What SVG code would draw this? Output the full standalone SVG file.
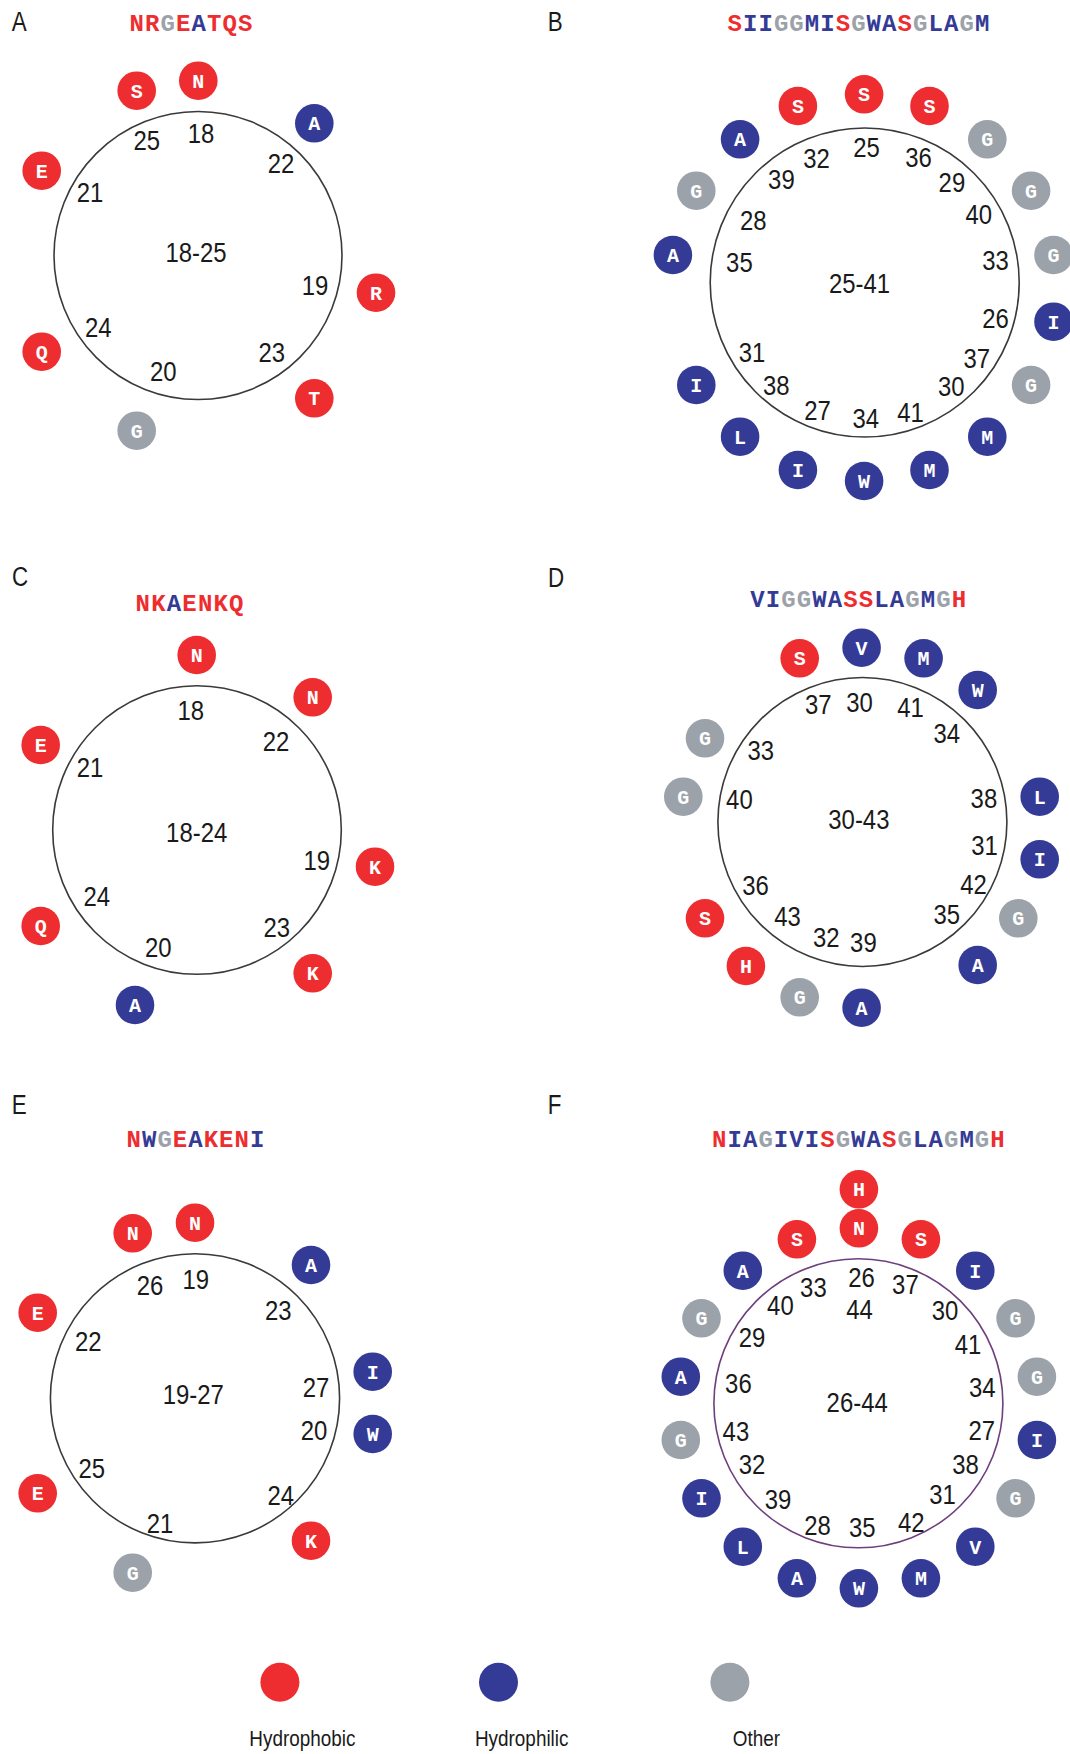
<svg xmlns="http://www.w3.org/2000/svg" width="1070" height="1754" viewBox="0 0 1070 1754">
<style>
.r{fill:#ED2D2F}.b{fill:#343B96}.g{fill:#9CA2AA}
.rt{fill:#ED2D2F}.bt{fill:#343B96}.gt{fill:#9CA2AA}
.res text{fill:#fff;font-family:"Liberation Mono","DejaVu Sans Mono",monospace;font-weight:bold;font-size:20px;text-anchor:middle}
.seq{font-family:"Liberation Mono","DejaVu Sans Mono",monospace;font-weight:bold;font-size:24px;text-anchor:middle}
.num,.pl,.leg{font-family:"Liberation Sans",Arial,sans-serif;fill:#1a1a1a;transform-box:fill-box;transform-origin:center}
.num{font-size:28.5px;text-anchor:middle;transform:scaleX(0.84)}
.pl{font-size:28px;transform:scaleX(0.8)}
.leg{font-size:22px;text-anchor:middle;transform:scaleX(0.86)}
.wheel{fill:none;stroke:#3a3a3a;stroke-width:1.6}
</style>
<rect width="1070" height="1754" fill="#fff"/>

<!-- Panel labels -->
<text class="pl" x="10" y="31.5">A</text>
<text class="pl" x="546" y="31.5">B</text>
<text class="pl" x="10" y="586.5">C</text>
<text class="pl" x="546" y="587">D</text>
<text class="pl" x="10" y="1114">E</text>
<text class="pl" x="546" y="1114">F</text>

<!-- Sequences -->
<text class="seq" y="31"><tspan x="136.8" class="rt">N</tspan><tspan x="152.3" class="rt">R</tspan><tspan x="167.8" class="gt">G</tspan><tspan x="183.3" class="rt">E</tspan><tspan x="198.8" class="bt">A</tspan><tspan x="214.3" class="rt">T</tspan><tspan x="229.8" class="rt">Q</tspan><tspan x="245.3" class="rt">S</tspan></text>
<text class="seq" y="31"><tspan x="734.7" class="rt">S</tspan><tspan x="750.2" class="bt">I</tspan><tspan x="765.6" class="bt">I</tspan><tspan x="781.1" class="gt">G</tspan><tspan x="796.5" class="gt">G</tspan><tspan x="812.0" class="bt">M</tspan><tspan x="827.5" class="bt">I</tspan><tspan x="842.9" class="rt">S</tspan><tspan x="858.4" class="gt">G</tspan><tspan x="873.8" class="bt">W</tspan><tspan x="889.3" class="bt">A</tspan><tspan x="904.8" class="rt">S</tspan><tspan x="920.2" class="gt">G</tspan><tspan x="935.7" class="bt">L</tspan><tspan x="951.1" class="bt">A</tspan><tspan x="966.6" class="gt">G</tspan><tspan x="982.1" class="bt">M</tspan></text>
<text class="seq" y="611"><tspan x="142.8" class="rt">N</tspan><tspan x="158.4" class="rt">K</tspan><tspan x="173.9" class="bt">A</tspan><tspan x="189.5" class="rt">E</tspan><tspan x="205.1" class="rt">N</tspan><tspan x="220.6" class="rt">K</tspan><tspan x="236.2" class="rt">Q</tspan></text>
<text class="seq" y="607"><tspan x="757.5" class="bt">V</tspan><tspan x="773.0" class="bt">I</tspan><tspan x="788.5" class="gt">G</tspan><tspan x="804.0" class="gt">G</tspan><tspan x="819.5" class="bt">W</tspan><tspan x="835.0" class="bt">A</tspan><tspan x="850.5" class="rt">S</tspan><tspan x="866.0" class="rt">S</tspan><tspan x="881.5" class="bt">L</tspan><tspan x="897.0" class="bt">A</tspan><tspan x="912.5" class="gt">G</tspan><tspan x="928.0" class="bt">M</tspan><tspan x="943.5" class="gt">G</tspan><tspan x="959.0" class="rt">H</tspan></text>
<text class="seq" y="1146.5"><tspan x="133.7" class="rt">N</tspan><tspan x="149.1" class="bt">W</tspan><tspan x="164.6" class="gt">G</tspan><tspan x="180.0" class="rt">E</tspan><tspan x="195.5" class="bt">A</tspan><tspan x="210.9" class="rt">K</tspan><tspan x="226.3" class="rt">E</tspan><tspan x="241.8" class="rt">N</tspan><tspan x="257.2" class="bt">I</tspan></text>
<text class="seq" y="1146.5"><tspan x="719.2" class="rt">N</tspan><tspan x="734.7" class="bt">I</tspan><tspan x="750.1" class="bt">A</tspan><tspan x="765.6" class="gt">G</tspan><tspan x="781.0" class="bt">I</tspan><tspan x="796.5" class="bt">V</tspan><tspan x="812.0" class="bt">I</tspan><tspan x="827.4" class="rt">S</tspan><tspan x="842.9" class="gt">G</tspan><tspan x="858.3" class="bt">W</tspan><tspan x="873.8" class="bt">A</tspan><tspan x="889.3" class="rt">S</tspan><tspan x="904.7" class="gt">G</tspan><tspan x="920.2" class="bt">L</tspan><tspan x="935.6" class="bt">A</tspan><tspan x="951.1" class="gt">G</tspan><tspan x="966.6" class="bt">M</tspan><tspan x="982.0" class="gt">G</tspan><tspan x="997.5" class="rt">H</tspan></text>

<!-- Wheels -->
<g id="connectors">
<circle class="wheel" cx="198" cy="255.5" r="144"/>
<circle class="wheel" cx="864.7" cy="282.5" r="154.5"/>
<circle class="wheel" cx="197" cy="830" r="144.3"/>
<circle class="wheel" cx="862.4" cy="822" r="144.5"/>
<circle class="wheel" cx="195" cy="1398.3" r="144.6"/>
<circle class="wheel" cx="858.4" cy="1403.3" r="144.5" style="stroke:#6E3F7E"/>
</g>

<!-- Panel A -->
<g id="panelA">
<text class="num" x="196" y="262">18-25</text>
<text class="num" x="201" y="143.3">18</text><text class="num" x="146.7" y="150">25</text><text class="num" x="281" y="173.3">22</text><text class="num" x="90" y="201.7">21</text><text class="num" x="315" y="295">19</text><text class="num" x="98.3" y="337.3">24</text><text class="num" x="271.7" y="361.7">23</text><text class="num" x="163.3" y="381">20</text>
<g id="A-N18" class="res"><circle class="r" cx="198.3" cy="80.7" r="19.3"/><text x="198.3" y="87.7">N</text></g>
<g id="A-S25" class="res"><circle class="r" cx="136.7" cy="90.7" r="19.3"/><text x="136.7" y="97.7">S</text></g>
<g id="A-A22" class="res"><circle class="b" cx="314.3" cy="123.3" r="19.3"/><text x="314.3" y="130.3">A</text></g>
<g id="A-E21" class="res"><circle class="r" cx="41.7" cy="170.7" r="19.3"/><text x="41.7" y="177.7">E</text></g>
<g id="A-R19" class="res"><circle class="r" cx="376" cy="292.7" r="19.3"/><text x="376" y="299.7">R</text></g>
<g id="A-Q24" class="res"><circle class="r" cx="41.7" cy="351.7" r="19.3"/><text x="41.7" y="358.7">Q</text></g>
<g id="A-T23" class="res"><circle class="r" cx="314.3" cy="398.3" r="19.3"/><text x="314.3" y="405.3">T</text></g>
<g id="A-G20" class="res"><circle class="g" cx="136.7" cy="430.7" r="19.3"/><text x="136.7" y="437.7">G</text></g>
</g>

<!-- Panel B -->
<g id="panelB">
<text class="num" x="859.6" y="293.3">25-41</text>
<text class="num" x="866.5" y="156.7">25</text><text class="num" x="816.5" y="168.3">32</text><text class="num" x="918.5" y="166.7">36</text><text class="num" x="781.4" y="189">39</text><text class="num" x="951.9" y="191.7">29</text><text class="num" x="753.2" y="230">28</text><text class="num" x="978.7" y="224.3">40</text><text class="num" x="739.4" y="271.7">35</text><text class="num" x="995.6" y="270">33</text><text class="num" x="995.6" y="328.3">26</text><text class="num" x="752.1" y="362.3">31</text><text class="num" x="976.7" y="368.3">37</text><text class="num" x="776.2" y="395">38</text><text class="num" x="951.2" y="396">30</text><text class="num" x="817.6" y="420">27</text><text class="num" x="865.8" y="428.3">34</text><text class="num" x="910.6" y="422.3">41</text>
<g id="B-S25" class="res"><circle class="r" cx="864.1" cy="94.3" r="19.3"/><text x="864.1" y="101.3">S</text></g>
<g id="B-S32" class="res"><circle class="r" cx="797.9" cy="106" r="19.3"/><text x="797.9" y="113">S</text></g>
<g id="B-S36" class="res"><circle class="r" cx="929.5" cy="106" r="19.3"/><text x="929.5" y="113">S</text></g>
<g id="B-A39" class="res"><circle class="b" cx="740.1" cy="139.3" r="19.3"/><text x="740.1" y="146.3">A</text></g>
<g id="B-G29" class="res"><circle class="g" cx="987.3" cy="139.3" r="19.3"/><text x="987.3" y="146.3">G</text></g>
<g id="B-G28" class="res"><circle class="g" cx="696.3" cy="190.7" r="19.3"/><text x="696.3" y="197.7">G</text></g>
<g id="B-G40" class="res"><circle class="g" cx="1031.1" cy="190.7" r="19.3"/><text x="1031.1" y="197.7">G</text></g>
<g id="B-A35" class="res"><circle class="b" cx="672.9" cy="255" r="19.3"/><text x="672.9" y="262">A</text></g>
<g id="B-G33" class="res"><circle class="g" cx="1053.5" cy="255" r="19.3"/><text x="1053.5" y="262">G</text></g>
<g id="B-I26" class="res"><circle class="b" cx="1053.5" cy="321.7" r="19.3"/><text x="1053.5" y="328.7">I</text></g>
<g id="B-I31" class="res"><circle class="b" cx="696.3" cy="385" r="19.3"/><text x="696.3" y="392">I</text></g>
<g id="B-G37" class="res"><circle class="g" cx="1031.1" cy="385" r="19.3"/><text x="1031.1" y="392">G</text></g>
<g id="B-L38" class="res"><circle class="b" cx="740.1" cy="436.7" r="19.3"/><text x="740.1" y="443.7">L</text></g>
<g id="B-M30" class="res"><circle class="b" cx="987.3" cy="436.7" r="19.3"/><text x="987.3" y="443.7">M</text></g>
<g id="B-I27" class="res"><circle class="b" cx="797.9" cy="470" r="19.3"/><text x="797.9" y="477">I</text></g>
<g id="B-M41" class="res"><circle class="b" cx="929.5" cy="470" r="19.3"/><text x="929.5" y="477">M</text></g>
<g id="B-W34" class="res"><circle class="b" cx="864.1" cy="481" r="19.3"/><text x="864.1" y="488">W</text></g>
</g>

<!-- Panel C -->
<g id="panelC">
<text class="num" x="196.7" y="841.7">18-24</text>
<text class="num" x="190.7" y="720">18</text><text class="num" x="276" y="750.7">22</text><text class="num" x="90" y="777.3">21</text><text class="num" x="316.7" y="870">19</text><text class="num" x="96.7" y="906">24</text><text class="num" x="276.7" y="936.7">23</text><text class="num" x="158.3" y="957.3">20</text>
<g id="C-N18" class="res"><circle class="r" cx="196.7" cy="655" r="19.3"/><text x="196.7" y="662">N</text></g>
<g id="C-N22" class="res"><circle class="r" cx="312.7" cy="697.3" r="19.3"/><text x="312.7" y="704.3">N</text></g>
<g id="C-E21" class="res"><circle class="r" cx="40.7" cy="745" r="19.3"/><text x="40.7" y="752">E</text></g>
<g id="C-K19" class="res"><circle class="r" cx="375" cy="866.7" r="19.3"/><text x="375" y="873.7">K</text></g>
<g id="C-Q24" class="res"><circle class="r" cx="40.7" cy="926" r="19.3"/><text x="40.7" y="933">Q</text></g>
<g id="C-K23" class="res"><circle class="r" cx="312.7" cy="973.3" r="19.3"/><text x="312.7" y="980.3">K</text></g>
<g id="C-A20" class="res"><circle class="b" cx="135" cy="1005" r="19.3"/><text x="135" y="1012">A</text></g>
</g>

<!-- Panel D -->
<g id="panelD">
<text class="num" x="858.9" y="829.3">30-43</text>
<text class="num" x="818.3" y="714.3">37</text><text class="num" x="859.6" y="711.7">30</text><text class="num" x="910.6" y="716.7">41</text><text class="num" x="946.7" y="743.3">34</text><text class="num" x="760.7" y="760">33</text><text class="num" x="739.4" y="809.3">40</text><text class="num" x="983.9" y="808.3">38</text><text class="num" x="984.6" y="855">31</text><text class="num" x="755.6" y="895">36</text><text class="num" x="973.6" y="894">42</text><text class="num" x="787.6" y="926">43</text><text class="num" x="946.7" y="924.3">35</text><text class="num" x="826.2" y="947.3">32</text><text class="num" x="863.4" y="952.3">39</text>
<g id="D-V30" class="res"><circle class="b" cx="861.6" cy="647.7" r="19.3"/><text x="861.6" y="654.7">V</text></g>
<g id="D-S37" class="res"><circle class="r" cx="799.7" cy="658.3" r="19.3"/><text x="799.7" y="665.3">S</text></g>
<g id="D-M41" class="res"><circle class="b" cx="923.6" cy="658.3" r="19.3"/><text x="923.6" y="665.3">M</text></g>
<g id="D-W34" class="res"><circle class="b" cx="977.7" cy="690" r="19.3"/><text x="977.7" y="697">W</text></g>
<g id="D-G33" class="res"><circle class="g" cx="705" cy="738.3" r="19.3"/><text x="705" y="745.3">G</text></g>
<g id="D-G40" class="res"><circle class="g" cx="683.3" cy="796.7" r="19.3"/><text x="683.3" y="803.7">G</text></g>
<g id="D-L38" class="res"><circle class="b" cx="1039.7" cy="796.7" r="19.3"/><text x="1039.7" y="803.7">L</text></g>
<g id="D-I31" class="res"><circle class="b" cx="1039.7" cy="859.3" r="19.3"/><text x="1039.7" y="866.3">I</text></g>
<g id="D-G42" class="res"><circle class="g" cx="1018.3" cy="918.3" r="19.3"/><text x="1018.3" y="925.3">G</text></g>
<g id="D-S36" class="res"><circle class="r" cx="705" cy="918.3" r="19.3"/><text x="705" y="925.3">S</text></g>
<g id="D-H43" class="res"><circle class="r" cx="745.9" cy="966" r="19.3"/><text x="745.9" y="973">H</text></g>
<g id="D-A35" class="res"><circle class="b" cx="977.7" cy="965" r="19.3"/><text x="977.7" y="972">A</text></g>
<g id="D-G32" class="res"><circle class="g" cx="799.7" cy="997.3" r="19.3"/><text x="799.7" y="1004.3">G</text></g>
<g id="D-A39" class="res"><circle class="b" cx="861.6" cy="1007.7" r="19.3"/><text x="861.6" y="1014.7">A</text></g>
</g>

<!-- Panel E -->
<g id="panelE">
<text class="num" x="193.3" y="1404">19-27</text>
<text class="num" x="150" y="1295">26</text><text class="num" x="195.7" y="1289.3">19</text><text class="num" x="278.3" y="1320">23</text><text class="num" x="88.3" y="1351">22</text><text class="num" x="316" y="1396.7">27</text><text class="num" x="314" y="1440">20</text><text class="num" x="91.7" y="1478.3">25</text><text class="num" x="280.7" y="1505">24</text><text class="num" x="160" y="1532.7">21</text>
<g id="E-N19" class="res"><circle class="r" cx="195" cy="1222.7" r="19.3"/><text x="195" y="1229.7">N</text></g>
<g id="E-N26" class="res"><circle class="r" cx="132.7" cy="1233.3" r="19.3"/><text x="132.7" y="1240.3">N</text></g>
<g id="E-A23" class="res"><circle class="b" cx="311" cy="1265" r="19.3"/><text x="311" y="1272">A</text></g>
<g id="E-E22" class="res"><circle class="r" cx="37.7" cy="1312.7" r="19.3"/><text x="37.7" y="1319.7">E</text></g>
<g id="E-I27" class="res"><circle class="b" cx="372.7" cy="1371.7" r="19.3"/><text x="372.7" y="1378.7">I</text></g>
<g id="E-W20" class="res"><circle class="b" cx="372.7" cy="1434" r="19.3"/><text x="372.7" y="1441">W</text></g>
<g id="E-E25" class="res"><circle class="r" cx="37.7" cy="1493.3" r="19.3"/><text x="37.7" y="1500.3">E</text></g>
<g id="E-K24" class="res"><circle class="r" cx="311" cy="1540.7" r="19.3"/><text x="311" y="1547.7">K</text></g>
<g id="E-G21" class="res"><circle class="g" cx="132.7" cy="1572.7" r="19.3"/><text x="132.7" y="1579.7">G</text></g>
</g>

<!-- Panel F -->
<g id="panelF">
<text class="num" x="857.2" y="1412.3">26-44</text>
<text class="num" x="861.6" y="1286.7">26</text><text class="num" x="813.4" y="1297.3">33</text><text class="num" x="905.4" y="1294.3">37</text><text class="num" x="859.6" y="1319.3">44</text><text class="num" x="780.4" y="1315">40</text><text class="num" x="945" y="1320">30</text><text class="num" x="752.1" y="1347.3">29</text><text class="num" x="968.1" y="1354.3">41</text><text class="num" x="738.4" y="1393.3">36</text><text class="num" x="982.2" y="1396.7">34</text><text class="num" x="735.9" y="1441">43</text><text class="num" x="981.8" y="1440">27</text><text class="num" x="752.1" y="1474">32</text><text class="num" x="965.6" y="1474">38</text><text class="num" x="942.6" y="1504">31</text><text class="num" x="778" y="1509.3">39</text><text class="num" x="817.6" y="1535">28</text><text class="num" x="862.3" y="1536.7">35</text><text class="num" x="911.2" y="1531.7">42</text>
<g id="F-H44" class="res"><circle class="r" cx="858.9" cy="1189.3" r="19.3"/><text x="858.9" y="1196.3">H</text></g>
<g id="F-N26" class="res"><circle class="r" cx="858.9" cy="1228.3" r="19.3"/><text x="858.9" y="1235.3">N</text></g>
<g id="F-S33" class="res"><circle class="r" cx="796.9" cy="1239.3" r="19.3"/><text x="796.9" y="1246.3">S</text></g>
<g id="F-S37" class="res"><circle class="r" cx="920.9" cy="1239.3" r="19.3"/><text x="920.9" y="1246.3">S</text></g>
<g id="F-A40" class="res"><circle class="b" cx="742.8" cy="1270.7" r="19.3"/><text x="742.8" y="1277.7">A</text></g>
<g id="F-I30" class="res"><circle class="b" cx="975.3" cy="1270.7" r="19.3"/><text x="975.3" y="1277.7">I</text></g>
<g id="F-G29" class="res"><circle class="g" cx="701.5" cy="1318.3" r="19.3"/><text x="701.5" y="1325.3">G</text></g>
<g id="F-G41" class="res"><circle class="g" cx="1015.6" cy="1318.3" r="19.3"/><text x="1015.6" y="1325.3">G</text></g>
<g id="F-A36" class="res"><circle class="b" cx="680.8" cy="1376.7" r="19.3"/><text x="680.8" y="1383.7">A</text></g>
<g id="F-G34" class="res"><circle class="g" cx="1036.9" cy="1376.7" r="19.3"/><text x="1036.9" y="1383.7">G</text></g>
<g id="F-G43" class="res"><circle class="g" cx="680.8" cy="1440" r="19.3"/><text x="680.8" y="1447">G</text></g>
<g id="F-I27" class="res"><circle class="b" cx="1036.9" cy="1440" r="19.3"/><text x="1036.9" y="1447">I</text></g>
<g id="F-I32" class="res"><circle class="b" cx="701.5" cy="1498.3" r="19.3"/><text x="701.5" y="1505.3">I</text></g>
<g id="F-G38" class="res"><circle class="g" cx="1015.6" cy="1498.3" r="19.3"/><text x="1015.6" y="1505.3">G</text></g>
<g id="F-L39" class="res"><circle class="b" cx="742.8" cy="1546.7" r="19.3"/><text x="742.8" y="1553.7">L</text></g>
<g id="F-V31" class="res"><circle class="b" cx="975.3" cy="1546.7" r="19.3"/><text x="975.3" y="1553.7">V</text></g>
<g id="F-A28" class="res"><circle class="b" cx="796.9" cy="1578.3" r="19.3"/><text x="796.9" y="1585.3">A</text></g>
<g id="F-M42" class="res"><circle class="b" cx="920.9" cy="1578.3" r="19.3"/><text x="920.9" y="1585.3">M</text></g>
<g id="F-W35" class="res"><circle class="b" cx="858.9" cy="1588.3" r="19.3"/><text x="858.9" y="1595.3">W</text></g>
</g>

<!-- Legend -->
<g id="legend">
<circle class="r" cx="279.9" cy="1682.3" r="19.5"/>
<circle class="b" cx="498.5" cy="1682.3" r="19.5"/>
<circle class="g" cx="729.9" cy="1682.3" r="19.5"/>
<text class="leg" x="302.4" y="1746.5">Hydrophobic</text>
<text class="leg" x="521.7" y="1746.5">Hydrophilic</text>
<text class="leg" x="756.5" y="1746.5">Other</text>
</g>
</svg>
